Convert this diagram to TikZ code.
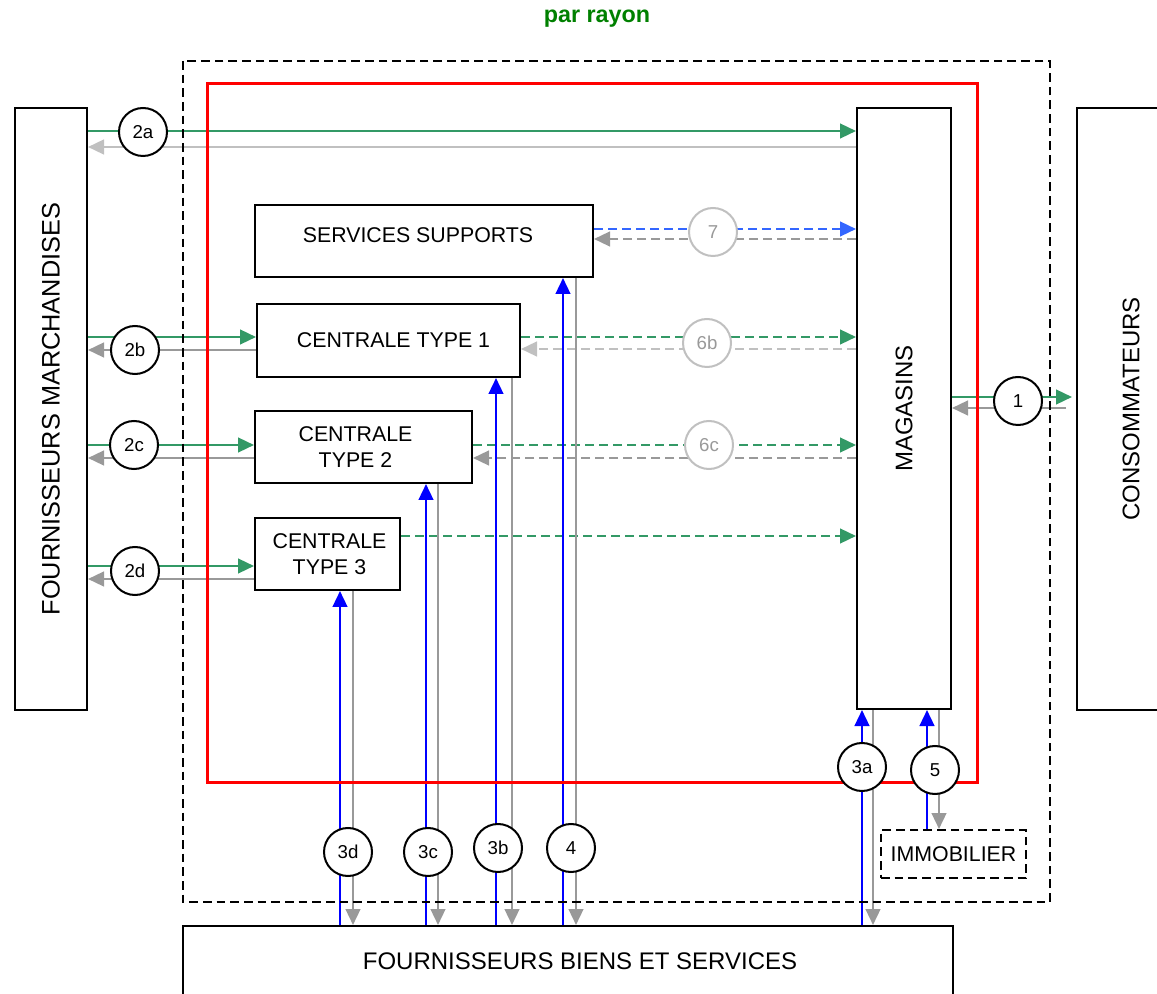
\documentclass[tikz,border=0pt]{standalone}
\usepackage{fontspec}
\setmainfont{Liberation Sans}
\usetikzlibrary{arrows.meta}
\definecolor{ngreen}{HTML}{339966}
\definecolor{tgreen}{HTML}{008000}
\definecolor{lgray}{HTML}{C0C0C0}
\definecolor{dgray}{HTML}{999999}
\definecolor{nblue}{HTML}{0000FF}
\definecolor{dblue}{HTML}{3366FF}
\definecolor{nred}{HTML}{FF0000}
\begin{document}
\begin{tikzpicture}[x=0.75pt,y=-0.75pt,
  box/.style={draw, line width=1.5pt, inner sep=0pt, align=center, fill=white,
    font=\fontsize{16}{19}\selectfont},
  vbox/.style={box, font=\fontsize{18}{21}\selectfont},
  circ/.style={circle, draw, fill=white, line width=1.5pt, minimum size=36pt,
    inner sep=0pt, font=\fontsize{14}{16}\selectfont},
  lcirc/.style={circ, draw=lgray, text=dgray},
  flow/.style={line width=1.8pt, -{Triangle[length=12pt,width=11pt]}},
  dflow/.style={dash pattern=on 6.75pt off 3.75pt},
  frame/.style={line width=1.5pt, dash pattern=on 6.5pt off 3.75pt}
]
\useasboundingbox (0,0) rectangle (1157,994);
\clip (0,0) rectangle (1157,994);

% title
\node[font=\bfseries\fontsize{17.5}{20}\selectfont, text=tgreen] (title) at (597,19) {par rayon};

% boxes
\node[vbox, minimum width=54pt, minimum height=451.5pt, font=\fontsize{19}{22}\selectfont] (fm) at (51,409)
  {\rotatebox{90}{FOURNISSEURS MARCHANDISES}};
\node[vbox, minimum width=81pt, minimum height=451.5pt] (cons) at (1131,409)
  {\rotatebox{90}{CONSOMMATEURS}};
\node[vbox, minimum width=70.5pt, minimum height=450.75pt] (mag) at (904,408.5)
  {\rotatebox{90}{MAGASINS}};
\node[box, minimum width=253.5pt, minimum height=54pt] (ss) at (424,241)
  {SERVICES SUPPORTS\hspace*{9pt}\vphantom{\raisebox{-9pt}{X}}};
\node[box, minimum width=197.25pt, minimum height=54.75pt] (ct1) at (388.5,340.5)
  {\hspace*{7.5pt}CENTRALE TYPE 1};
\node[box, minimum width=162.75pt, minimum height=54pt] (ct2) at (363.5,447)
  {CENTRALE\hspace*{12pt}\\TYPE 2\hspace*{12pt}};
\node[box, minimum width=108.75pt, minimum height=54pt] (ct3) at (327.5,554)
  {\hspace*{3pt}CENTRALE\\\hspace*{3pt}TYPE 3};
\node[box, minimum width=577.5pt, minimum height=52.5pt, font=\fontsize{18}{21}\selectfont]
  (fbs) at (568,961) {\hspace*{18pt}FOURNISSEURS BIENS ET SERVICES};
\node[box, frame, minimum width=108.75pt, minimum height=36pt] (immo) at (953.5,854)
  {IMMOBILIER};

% horizontal flows
\draw[flow, ngreen] (fm.east |- 0,131) -- (mag.west |- 0,131);
\draw[flow, lgray] (mag.west |- 0,147) -- (fm.east |- 0,147);
\draw[flow, ngreen] (fm.east |- 0,337) -- (ct1.west |- 0,337);
\draw[flow, dgray] (ct1.west |- 0,350) -- (fm.east |- 0,350);
\draw[flow, ngreen] (fm.east |- 0,445) -- (ct2.west |- 0,445);
\draw[flow, dgray] (ct2.west |- 0,458) -- (fm.east |- 0,458);
\draw[flow, ngreen] (fm.east |- 0,566) -- (ct3.west |- 0,566);
\draw[flow, dgray] (ct3.west |- 0,579) -- (fm.east |- 0,579);

\draw[flow, dflow, dblue] (ss.east |- 0,229) -- (mag.west |- 0,229);
\draw[flow, dflow, dgray] (mag.west |- 0,239) -- (ss.east |- 0,239);
\draw[flow, dflow, ngreen] (ct1.east |- 0,337) -- (mag.west |- 0,337);
\draw[flow, dflow, lgray] (mag.west |- 0,349) -- (ct1.east |- 0,349);
\draw[flow, dflow, ngreen] (ct2.east |- 0,445) -- (mag.west |- 0,445);
\draw[flow, dflow, dgray] (mag.west |- 0,458) -- (ct2.east |- 0,458);
\draw[flow, dflow, ngreen] (ct3.east |- 0,536) -- (mag.west |- 0,536);

\draw[flow, ngreen, shorten >=3pt] (mag.east |- 0,397) -- (cons.west |- 0,397);
\draw[flow, dgray, shorten <=7.5pt] (cons.west |- 0,408) -- (mag.east |- 0,408);

% vertical flows
\draw[flow, nblue] (fbs.north -| 340,0) -- (ct3.south -| 340,0);
\draw[flow, dgray] (ct3.south -| 353,0) -- (fbs.north -| 353,0);
\draw[flow, nblue] (fbs.north -| 426,0) -- (ct2.south -| 426,0);
\draw[flow, dgray] (ct2.south -| 438,0) -- (fbs.north -| 438,0);
\draw[flow, nblue] (fbs.north -| 496,0) -- (ct1.south -| 496,0);
\draw[flow, dgray] (ct1.south -| 512,0) -- (fbs.north -| 512,0);
\draw[flow, nblue] (fbs.north -| 563,0) -- (ss.south -| 563,0);
\draw[flow, dgray] (ss.south -| 576,0) -- (fbs.north -| 576,0);
\draw[flow, nblue] (fbs.north -| 862,0) -- (mag.south -| 862,0);
\draw[flow, dgray] (mag.south -| 873,0) -- (fbs.north -| 873,0);
\draw[flow, nblue] (immo.north -| 927,0) -- (mag.south -| 927,0);
\draw[flow, dgray] (mag.south -| 939,0) -- (immo.north -| 939,0);

% frames
\draw[frame] (183,61) rectangle (1050,902);
\draw[nred, line width=2.25pt] (207,84) rectangle (977,782);

% circles
\node[circ] (c2a) at (143,132) {2a};
\node[circ] (c2b) at (135,350) {2b};
\node[circ] (c2c) at (134,445) {2c};
\node[circ] (c2d) at (135,571) {2d};
\node[circ] (c1) at (1018,401) {1};
\node[circ] (c3d) at (348,852) {3d};
\node[circ] (c3c) at (428,852) {3c};
\node[circ] (c3b) at (498,848) {3b};
\node[circ] (c4) at (571,848) {4};
\node[circ] (c3a) at (862,767) {3a};
\node[circ] (c5) at (935,770) {5};
\node[lcirc] (c7) at (713,232) {7};
\node[lcirc] (c6b) at (707,343) {6b};
\node[lcirc] (c6c) at (709,445) {6c};
\end{tikzpicture}
\end{document}
